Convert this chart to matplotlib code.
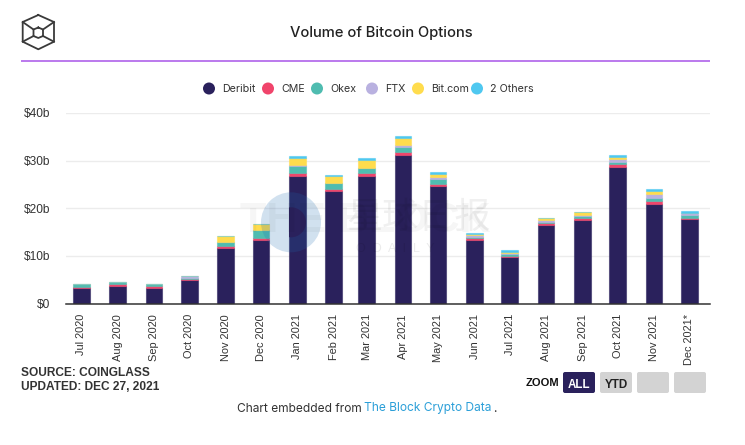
import datetime as dt
import matplotlib
matplotlib.use("Agg")
import matplotlib.pyplot as plt
import matplotlib.dates as mdates
from matplotlib.patches import Circle, FancyBboxPatch
from matplotlib.colors import to_rgba

months = ["Jul 2020","Aug 2020","Sep 2020","Oct 2020","Nov 2020","Dec 2020","Jan 2021","Feb 2021","Mar 2021",
          "Apr 2021","May 2021","Jun 2021","Jul 2021","Aug 2021","Sep 2021","Oct 2021","Nov 2021","Dec 2021*"]
years_months = [(2020,m) for m in range(7,13)] + [(2021,m) for m in range(1,13)]
deribit = [3.3,3.7,3.3,5.0,11.6,13.3,26.8,23.6,26.8,31.2,24.7,13.3,9.75,16.4,17.5,28.6,20.9,17.7]
cme     = [0.1,0.35,0.35,0.1,0.4,0.4,0.55,0.4,0.55,0.55,0.35,0.35,0.3,0.4,0.55,0.65,0.65,0.35]
okex    = [0.6,0.5,0.45,0.35,0.85,1.65,1.45,1.25,1.05,1.1,1.1,0.35,0.3,0.4,0.3,0.55,0.65,0.5]
ftx     = [0.05,0.02,0.02,0.35,0.05,0.02,0.3,0.05,0.1,0.35,0.35,0.35,0.2,0.3,0.3,0.5,0.85,0.35]
bitcom  = [0.0,0.0,0.0,0.02,1.3,1.3,1.5,1.4,1.6,1.65,0.75,0.2,0.3,0.5,0.5,0.55,0.55,0.2]
others  = [0.05,0.02,0.02,0.03,0.02,0.02,0.4,0.35,0.5,0.4,0.4,0.3,0.35,0.05,0.05,0.4,0.4,0.4]
series_names = ["Deribit","CME","Okex","FTX","Bit.com","2 Others"]
series_colors = ["#2a215c","#f0446b","#4fbcb0","#b9b1e0","#ffdc4d","#4fc8f0"]
y_ticks = [0,10,20,30,40]
y_labels = ["$0","$10b","$20b","$30b","$40b"]

W, H = 745, 445
fig = plt.figure(figsize=(W/100, H/100), dpi=100, facecolor="white")
L, R, T, B = 66, 710, 113, 303.5
ax = fig.add_axes([L/W, 1-B/H, (R-L)/W, (B-T)/H])
dates = [mdates.date2num(dt.date(y,m,1)) for y,m in years_months]
ax.set_xlim(dates[0]-13, dates[-1]+17.6)
ax.set_ylim(0, 40)
bar_days = 16.5/1.174
bottom = [0.0]*len(dates)
first_bars = None
for vals, col in zip([deribit,cme,okex,ftx,bitcom,others], series_colors):
    bars = ax.bar(dates, vals, width=bar_days, bottom=bottom, color=col,
                  edgecolor=to_rgba(col,0.55), linewidth=0.8, zorder=3)
    if first_bars is None:
        first_bars = bars
    bottom = [b+v for b,v in zip(bottom, vals)]
for s in ["top","right","left"]:
    ax.spines[s].set_visible(False)
ax.spines["bottom"].set_color("#333333")
ax.spines["bottom"].set_linewidth(1.1)
ax.spines["bottom"].set_zorder(5)
ax.set_yticks(y_ticks)
ax.set_yticklabels(y_labels, fontsize=8.6, family="Liberation Sans", color="#333333")
ax.tick_params(axis="y", length=0, pad=11.5)
ax.set_xticks(dates)
ax.set_xticklabels(months, rotation=90, fontsize=7.9, family="Liberation Sans", color="#333333", va="top", ha="center")
ax.tick_params(axis="x", length=0, pad=7.6)
ax.grid(axis="y", color="#ececec", linewidth=1.0, zorder=0)
ax.set_axisbelow(True)

ov = fig.add_axes([0,0,1,1], facecolor="none", zorder=10)
ov.set_xlim(0,W); ov.set_ylim(H,0); ov.axis("off")

# header
ov.text(381, 33, "Volume of Bitcoin Options", ha="center", va="center", fontsize=10.6, family="Inter", weight="medium", color="#222222")
ov.plot([21,710],[60.5,60.5], color="#a855e8", lw=1.1, solid_capstyle="butt")

# logo
lc = "#3a3a3a"
hx = [(38.3,15),(54,22),(54,41.7),(38.3,49.3),(22.7,41.7),(22.7,22),(38.3,15)]
ov.plot(*zip(*hx), color=lc, lw=1.3)
ih = [(38.3,27.5),(43,29.5),(43,36),(38.3,38),(33.5,36),(33.5,29.5),(38.3,27.5)]
ov.plot(*zip(*ih), color=lc, lw=1.3)
for a,b in [((22.7,22),(33.5,29.5)),((54,22),(43,29.5)),((22.7,41.7),(33.5,36)),((54,41.7),(43,36))]:
    ov.plot([a[0],b[0]],[a[1],b[1]], color=lc, lw=1.3)

# legend
leg_x = [209,268,317,372,418,477]
for x,name,col in zip(leg_x, series_names, series_colors):
    ov.add_patch(Circle((x,88.5), 6, color=col, lw=0))
    ov.text(x+13, 88.7, name, ha="left", va="center", fontsize=7.7, family="Inter", color="#333333")

# watermark
ov.text(365, 221, "THE BLOCK", ha="center", va="center", fontsize=31, family="Liberation Sans", weight="bold", color="black", alpha=0.035)
ov.text(418, 218, "星球日报", ha="center", va="center", fontsize=26, family="Noto Sans CJK SC", color="black", alpha=0.06)
ov.text(395, 249, "O  D  A  I  L  Y", ha="center", va="center", fontsize=9, family="Liberation Sans", color="black", alpha=0.08)
ov.add_patch(Circle((291,222.3), 30, color=(27/255,105/255,177/255), alpha=0.2, lw=0))
inner = Circle((291,222.3), 15, color="#2a215c", lw=0)
ov.add_patch(inner)
inner.set_clip_path(first_bars[6])

# footer
ov.text(21, 373.5, "SOURCE: COINGLASS", ha="left", va="center", fontsize=8.6, family="Liberation Sans", weight="bold", color="#333333")
ov.text(21, 387.5, "UPDATED: DEC 27, 2021", ha="left", va="center", fontsize=8.6, family="Liberation Sans", weight="bold", color="#333333")
ov.text(526, 382.5, "ZOOM", ha="left", va="center", fontsize=8, family="Liberation Sans", weight="bold", color="#111111")
for x,col in [(563,"#2a215c"),(600,"#d3d3d3"),(637,"#d3d3d3"),(674,"#d3d3d3")]:
    ov.add_patch(FancyBboxPatch((x+2,374),28,17, boxstyle="round,pad=2,rounding_size=2", fc=col, ec="none"))
ov.text(579, 384.5, "ALL", ha="center", va="center", fontsize=8.4, family="Liberation Sans", weight="bold", color="white")
ov.text(616, 384.5, "YTD", ha="center", va="center", fontsize=8.4, family="Liberation Sans", weight="bold", color="#222222")
ov.text(237, 408.5, "Chart embedded from", ha="left", va="center", fontsize=8.6, family="Inter", color="#333333")
ov.text(364.5, 408.5, "The Block Crypto Data", ha="left", va="center", fontsize=8.6, family="Inter", color="#2b9fd8")
ov.text(493.5, 408.5, ".", ha="left", va="center", fontsize=8.6, family="Inter", color="#333333")

fig.savefig("out.png", dpi=100, facecolor="white")
